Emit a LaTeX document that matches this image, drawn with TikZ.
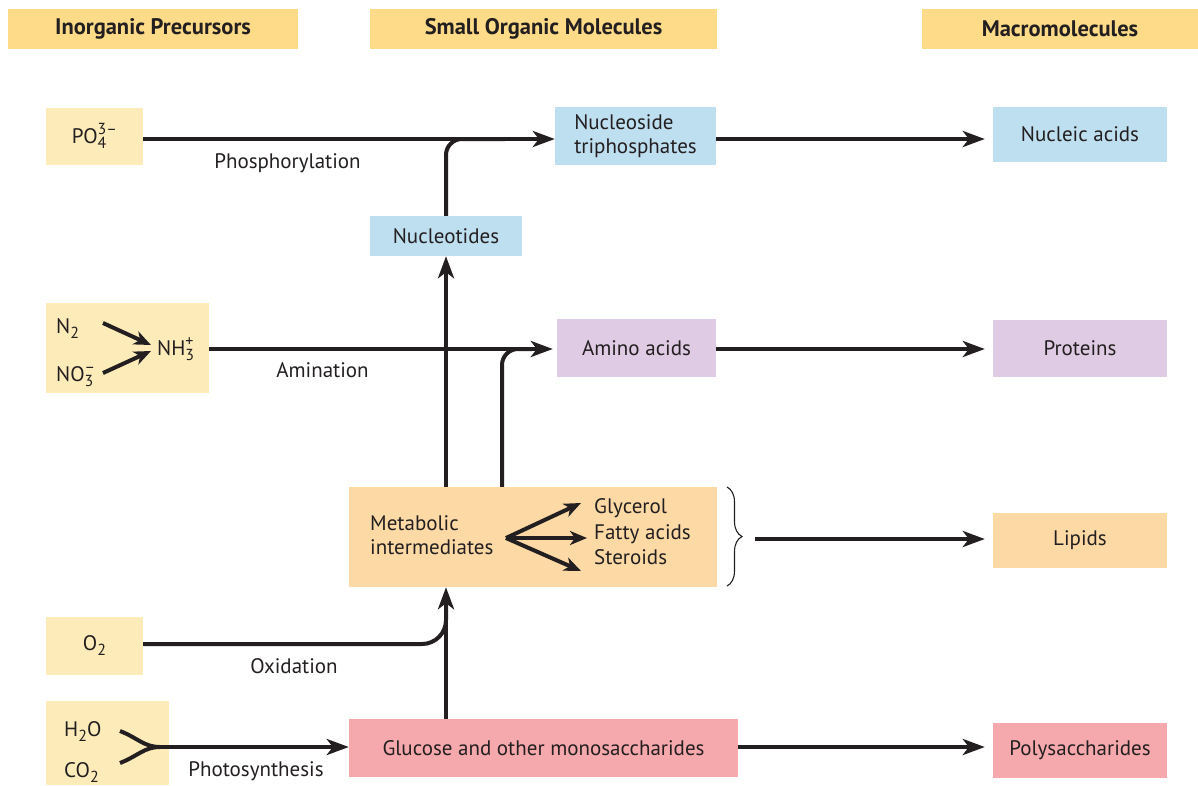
\documentclass[tikz,border=0pt]{standalone}
\usepackage{fontspec}
\setmainfont{PT Sans}
\usetikzlibrary{arrows.meta,decorations.pathreplacing}
\definecolor{hdr}{RGB}{254,219,136}
\definecolor{inorg}{RGB}{254,235,186}
\definecolor{blu}{RGB}{190,223,239}
\definecolor{pur}{RGB}{223,203,227}
\definecolor{ora}{RGB}{253,217,166}
\definecolor{pnk}{RGB}{246,169,172}
\definecolor{txt}{RGB}{35,31,32}
\newcommand\chsub[1]{\raisebox{-5pt}{\fontsize{16}{16}\selectfont #1}}
\newcommand\subsup[2]{{\fontsize{16}{16}\selectfont\ooalign{\raisebox{-5pt}{#1}\cr\raisebox{9pt}{#2}\cr}}}
\begin{document}
\begin{tikzpicture}[x=1pt,y=-1pt,
  every node/.style={text=txt, font=\fontsize{21}{24}\selectfont},
  box/.style={inner sep=0pt, draw=none},
  hdrbox/.style={box, fill=hdr, minimum height=40pt, font=\fontsize{22.5}{24}\selectfont\bfseries},
  inbox/.style={box, fill=inorg},
  bluebox/.style={box, fill=blu},
  purbox/.style={box, fill=pur},
  orabox/.style={box, fill=ora},
  pnkbox/.style={box, fill=pnk},
  lbl/.style={inner sep=0pt},
  plain/.style={draw=txt, line width=4pt},
  main/.style={plain, -{Stealth[length=22pt,width=16pt,inset=6pt]}},
  smallarr/.style={plain, -{Stealth[length=17pt,width=14pt,inset=5pt]}},
  bracestyle/.style={draw=txt, line width=1.1pt, decorate, decoration={brace, amplitude=15pt}}
]
\useasboundingbox (0,0) rectangle (1198,785);

% headers
\node[hdrbox, minimum width=290pt] (h1) at (153,29) {Inorganic Precursors};
\node[hdrbox, minimum width=347pt] (h2) at (543.5,29) {Small Organic Molecules};
\node[hdrbox, minimum width=276pt] (h3) at (1060,29) {Macromolecules};

% level coordinates
\coordinate (yP) at (0,139);
\coordinate (yA) at (0,349);
\coordinate (yO) at (0,644);
\coordinate (yO2) at (0,600);
\coordinate (yG) at (0,747);
\coordinate (x502) at (502,0);

% inorganic precursors
\node[inbox, minimum width=97pt, minimum height=57pt] (po4) at (94.5,136) {PO\subsup{4}{3--}};
\node[inbox, minimum width=163pt, minimum height=90pt] (nbox) at (127.5,348) {};
\node[lbl, anchor=base west] (n2) at (56,333) {N\chsub{2}};
\node[lbl, anchor=base west] (no3) at (56,381) {NO\subsup{3}{--}};
\node[lbl, anchor=base west] (nh3) at (157,355) {NH\subsup{3}{+}};
\coordinate (n2s) at (103,323);
\coordinate (n2e) at (151,345);
\coordinate (no3s) at (103,373);
\coordinate (no3e) at (151,351);
\draw[smallarr] (n2s) -- (n2e);
\draw[smallarr] (no3s) -- (no3e);
\node[inbox, minimum width=97pt, minimum height=58pt] (o2) at (94.5,646) {O\chsub{2}};
\node[inbox, minimum width=123pt, minimum height=84pt] (hbox) at (107.5,743) {};
\node[lbl, anchor=base west] (h2o) at (64,736) {H\chsub{2}O};
\node[lbl, anchor=base west] (co2) at (64,777) {CO\chsub{2}};

% small organic molecules
\node[bluebox, minimum width=161pt, minimum height=58pt, align=left] (ntp) at (635.5,136) {Nucleoside\\triphosphates};
\node[bluebox, minimum width=152pt, minimum height=40pt] (nt) at (446,236) {Nucleotides};
\node[purbox, minimum width=159pt, minimum height=58pt] (aa) at (636.5,348) {Amino acids};
\node[orabox, minimum width=368pt, minimum height=100pt] (met) at (533,537) {};
\node[lbl, anchor=west, align=left, font=\fontsize{21}{24}\selectfont] (metl) at (370,535) {Metabolic\\intermediates};
\node[lbl, anchor=west, align=left, font=\fontsize{21}{25.5}\selectfont] (lipl) at (594,532) {Glycerol\\Fatty acids\\Steroids};
\node[pnkbox, minimum width=389pt, minimum height=58pt] (glu) at (543.5,748) {Glucose and other monosaccharides};

% macromolecules
\node[bluebox, minimum width=174pt, minimum height=55pt] (na) at (1080,134.5) {Nucleic acids};
\node[purbox, minimum width=174pt, minimum height=57pt] (prot) at (1080,348.5) {Proteins};
\node[orabox, minimum width=174pt, minimum height=55pt] (lip) at (1080,540.5) {Lipids};
\node[pnkbox, minimum width=174pt, minimum height=55pt] (poly) at (1080,750.5) {Polysaccharides};

% labels
\node[lbl, anchor=base] (lphos) at (287.5,168) {Phosphorylation};
\node[lbl, anchor=base] (lamin) at (322.5,377) {Amination};
\node[lbl, anchor=base] (loxid) at (294,673) {Oxidation};
\node[lbl, anchor=base] (lphot) at (256,776) {Photosynthesis};

% phosphorylation
\draw[main] (po4.east |- yP) -- (ntp.west |- yP);
\draw[plain, rounded corners=16pt] (nt.north) |- ([xshift=-50pt]ntp.west |- yP);
\draw[main, shorten >=8pt] (ntp.east |- yP) -- (na.west |- yP);
\draw[main] (met.north -| nt.south) -- (nt.south);

% amination
\draw[main, shorten >=4pt] (nbox.east |- yA) -- (aa.west |- yA);
\draw[plain, rounded corners=16pt] (met.north -| x502) |- ([xshift=-25pt]aa.west |- yA);
\draw[main, shorten >=8pt] (aa.east |- yA) -- (prot.west |- yA);

% metabolic fork
\coordinate (fork) at (506,538);
\coordinate (fk1) at (581,503);
\coordinate (fk2) at (587,538);
\coordinate (fk3) at (581,571);
\draw[smallarr] (fork) -- (fk1);
\draw[smallarr] (fork) -- (fk2);
\draw[smallarr] (fork) -- (fk3);

% lipids brace
\coordinate (brT) at (727,487);
\coordinate (brB) at (727,586);
\draw[bracestyle] (brT) -- (brB);
\coordinate (lipstart) at (755,539);
\draw[main, shorten >=8pt] (lipstart) -- (lip.west |- lipstart);

% oxidation
\draw[plain, rounded corners=24pt] (o2.east |- yO) -| (nt.south |- yO2);
\draw[main] (glu.north -| nt.south) -- (met.south -| nt.south);

% photosynthesis
\coordinate (c1) at (120,731);
\coordinate (c2) at (120,763);
\coordinate (cm) at (160,747);
\draw[plain] (c1) .. controls (138,738) and (144,747) .. (cm);
\draw[plain] (c2) .. controls (138,756) and (144,747) .. (cm);
\draw[main] (cm) -- (glu.west |- cm);
\draw[main, shorten >=8pt] (glu.east |- yG) -- (poly.west |- yG);
\end{tikzpicture}
\end{document}
